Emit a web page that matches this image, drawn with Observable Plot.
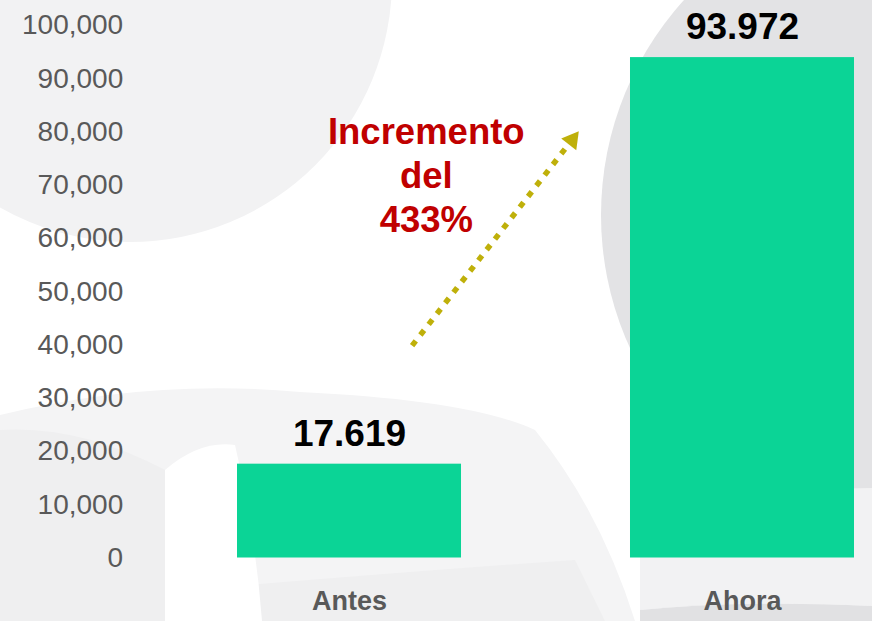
<!DOCTYPE html>
<html>
<head>
<meta charset="utf-8">
<script src="https://cdn.jsdelivr.net/npm/d3@7"></script>
<script src="https://cdn.jsdelivr.net/npm/@observablehq/plot@0.6"></script>
<style>
  html, body { margin: 0; padding: 0; background: #ffffff; }
  #wrap { position: relative; width: 872px; height: 621px; overflow: hidden; }
  #bg, #chart { position: absolute; left: 0; top: 0; }
</style>
</head>
<body>
<div id="wrap">
  <svg id="bg" width="872" height="621" viewBox="0 0 872 621">
    <rect width="872" height="621" fill="#ffffff"/>
    <path d="M0,415 Q150,378 300,392 Q470,400 535,430 Q600,510 635,621 L0,621 Z" fill="#f4f4f5"/>
    <path d="M165,592 Q400,572 575,560 L605,621 L165,621 Z" fill="#efeff0"/>
    <path d="M0,430 Q80,425 165,470 L165,621 L0,621 Z" fill="#efeff0"/>
    <path d="M165,470 Q200,440 235,445 Q255,530 262,621 L165,621 Z" fill="#ffffff"/>
    <circle cx="130" cy="-20" r="262" fill="#f2f2f3"/>
    <circle cx="921" cy="215" r="320" fill="#e3e3e5"/>
    <path d="M640,492 L872,488 L872,606 Q740,600 640,610 Z" fill="#f2f2f3"/>
    <path d="M640,610 Q740,600 872,606 L872,621 L640,621 Z" fill="#e1e1e3"/>
  </svg>
  <div id="chart"></div>
</div>
<script>
const categories = ["Antes", "Ahora"];
const values = [17619, 93972];
const valueLabels = ["17.619", "93.972"];
const yTicks = [0, 10000, 20000, 30000, 40000, 50000, 60000, 70000, 80000, 90000, 100000];
const annotationText = ["Incremento", "del", "433%"];
// annotation arrow anchored in data space (category, value)
const arrowFrom = ["Antes", 24750];
const arrowTo = ["Ahora", 119700];
const arrowHead = ["Ahora", 78500];

const bars = categories.map((c, i) => ({cat: c, value: values[i], label: valueLabels[i]}));
const font = "'Liberation Sans', Arial, sans-serif";

const chart = Plot.plot({
  width: 872,
  height: 621,
  marginTop: 25,
  marginBottom: 63.5,
  marginLeft: 237,
  marginRight: 18,
  style: {background: "transparent", fontFamily: font, color: "#595959", overflow: "visible"},
  x: {domain: categories, paddingInner: 0.43, paddingOuter: 0, round: false},
  y: {domain: [0, 100000]},
  marks: [
    Plot.axisY({ticks: yTicks, tickFormat: d3.format(","), tickSize: 0, tickPadding: 114.3, fontSize: 28, label: null, color: "#595959"}),
    Plot.axisX({tickSize: 0, tickPadding: 32.6, fontSize: 27, fontWeight: "bold", label: null, color: "#595959"}),
    Plot.barY(bars, {x: "cat", y: "value", fill: "#0bd496"}),
    Plot.text(bars, {x: "cat", y: "value", text: "label", dy: -30.5, fontSize: 37, fontWeight: "bold", fill: "#000000"}),
    Plot.arrow([{x1: arrowFrom[0], y1: arrowFrom[1], x2: arrowTo[0], y2: arrowTo[1]}], {
      x1: "x1", y1: "y1", x2: "x2", y2: "y2",
      insetStart: 102, insetEnd: 280, headLength: 0,
      stroke: "#bfb00a", strokeWidth: 5.5, strokeDasharray: "6,7.5", strokeLinecap: "butt"
    }),
    Plot.dot([{x: arrowHead[0], y: arrowHead[1]}], {
      x: "x", y: "y", dx: -170.4, symbol: "triangle", r: 7.05, rotate: 37.8,
      fill: "#bfb00a", stroke: "none"
    }),
    Plot.text([annotationText.join("\n")], {
      x: () => "Antes", y: () => 72113, text: d => d, dx: 76.8,
      fontSize: 36.5, lineHeight: 1.214, fontWeight: "bold", fill: "#c00000", textAnchor: "middle"
    })
  ]
});
document.getElementById("chart").appendChild(chart);
</script>
</body>
</html>
